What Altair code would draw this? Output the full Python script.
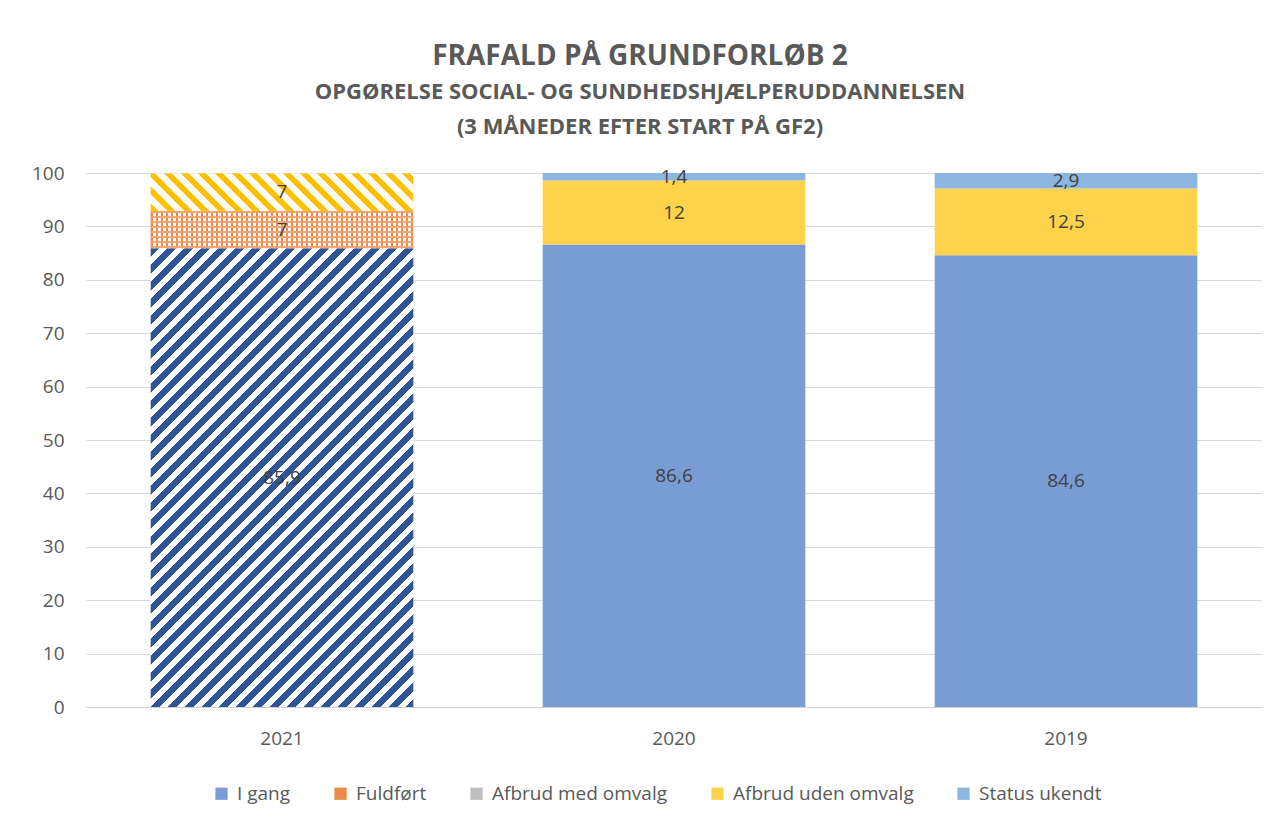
import math
import altair as alt
import pandas as pd

# ---- data ----
years = ["2021", "2020", "2019"]
categories = ["I gang", "Fuldført", "Afbrud med omvalg", "Afbrud uden omvalg", "Status ukendt"]
i_gang = [85.9, 86.6, 84.6]
fuldfoert = [7, 0, 0]
afbrud_med_omvalg = [0, 0, 0]
afbrud_uden_omvalg = [7, 12, 12.5]
status_ukendt = [0, 1.4, 2.9]
colors = ["#7A9CD5", "#EE8A45", "#BFBFBF", "#FFD24C", "#8CB7E1"]

title_line1 = "FRAFALD PÅ GRUNDFORLØB 2"
title_lines2 = ["OPGØRELSE SOCIAL- OG SUNDHEDSHJÆLPERUDDANNELSEN", "(3 MÅNEDER EFTER START PÅ GF2)"]

series = [i_gang, fuldfoert, afbrud_med_omvalg, afbrud_uden_omvalg, status_ukendt]
rows = []
for yi, yr in enumerate(years):
    base = 0.0
    for ci, cat in enumerate(categories):
        v = series[ci][yi]
        if v > 0:
            rows.append(dict(year=yr, cat=cat, value=v, y0=base, y1=base + v,
                             mid=base + v / 2, label=f"{v:g}".replace(".", ",")))
        base += v
df = pd.DataFrame(rows)

# ---- layout ----
W, H = 1176, 534
PI, PO = 0.33, 0.165
STEP = W / (len(years) - PI + 2 * PO)
BW = STEP * (1 - PI)
FONT = "Open Sans"
GREY = "#595959"


def diag_stripes(c1, c2, w, h, period, direction, frac=0.5):
    k = (w + h) / (w * w + h * h)
    if direction == "/":
        x1, y1, x2, y2 = 0, 0, k * w, k * h
    else:
        x1, y1, x2, y2 = 0, 1, k * w, 1 - k * h
    n = (w + h) / period
    stops = []
    i = 0
    while i / n < 1:
        a = i / n
        m = min((i + frac) / n, 1)
        b = min((i + 1) / n, 1)
        stops += [dict(offset=a, color=c1), dict(offset=m, color=c1),
                  dict(offset=m, color=c2), dict(offset=b, color=c2)]
        i += 1
    return dict(gradient="linear", x1=x1, y1=y1, x2=x2, y2=y2, stops=stops)


def axis_stripes(c1, c2, length, period, vertical, frac=0.6):
    n = length / period
    stops = []
    i = 0
    while i / n < 1:
        a = i / n
        m = min((i + frac) / n, 1)
        b = min((i + 1) / n, 1)
        stops += [dict(offset=a, color=c1), dict(offset=m, color=c1),
                  dict(offset=m, color=c2), dict(offset=b, color=c2)]
        i += 1
    if vertical:
        return dict(gradient="linear", x1=0, y1=0, x2=1, y2=0, stops=stops)
    return dict(gradient="linear", x1=0, y1=0, x2=0, y2=1, stops=stops)


def xenc():
    return alt.X("year:N", sort=years, title=None,
                 scale=alt.Scale(paddingInner=PI, paddingOuter=PO))


def yenc(field="y1"):
    return alt.Y(f"{field}:Q", title=None, scale=alt.Scale(domain=[0, 100], nice=False),
                 axis=alt.Axis(values=list(range(0, 101, 10))))


base = alt.Chart(df)

solid = base.transform_filter(alt.datum.year != "2021").mark_bar().encode(
    x=xenc(), y=yenc(), y2="y0:Q",
    color=alt.Color("cat:N", scale=alt.Scale(domain=categories, range=colors),
                    legend=alt.Legend(title=None, orient="none", direction="horizontal",
                                      legendX=126, legendY=611, symbolType="square",
                                      symbolSize=150, symbolStrokeWidth=0,
                                      labelFontSize=19, labelFont=FONT, labelColor=GREY,
                                      labelLimit=0, columnPadding=40, labelOffset=6)),
)

px = H / 100.0
h_igang = i_gang[0] * px
h_fuld = fuldfoert[0] * px
h_uden = afbrud_uden_omvalg[0] * px

def seg(cat, fill):
    return base.transform_filter((alt.datum.year == "2021") & (alt.datum.cat == cat)).mark_bar(
        fill=fill).encode(x=xenc(), y=yenc(), y2="y0:Q")

l_igang = seg("I gang", diag_stripes("#2F5597", "#FFFFFF", BW, h_igang, 17, "/", 0.5))
l_fuld_a = seg("Fuldført", axis_stripes("#EE8A45", "#FFFFFF", BW, 5, True, 0.5))
l_fuld_b = seg("Fuldført", axis_stripes("#F4A571", "rgba(255,255,255,0)", h_fuld, 5, False, 0.5))
l_uden = seg("Afbrud uden omvalg", diag_stripes("#FFC000", "#FFFFFF", BW, h_uden, 17, "\\", 0.45))

labels = base.mark_text(font=FONT, fontSize=19, color="#404040").encode(
    x=xenc(), y=yenc("mid"), text="label:N")

chart = alt.layer(solid, l_igang, l_fuld_a, l_fuld_b, l_uden, labels).properties(
    width=W, height=H,
    autosize=alt.AutoSizeParams(type="none"),
    padding={"left": 78, "top": 165, "right": 9, "bottom": 100},
    title=alt.TitleParams(
        text=title_line1, subtitle=title_lines2, font=FONT, fontSize=28, fontWeight="bold",
        color=GREY, subtitleFont=FONT, subtitleFontSize=22, subtitleFontWeight="bold",
        subtitleColor=GREY, subtitleLineHeight=35, subtitlePadding=11, offset=26,
        anchor="middle", dx=-34),
).configure_view(stroke=None).configure_axis(
    labelFont=FONT, labelFontSize=19, labelColor=GREY, ticks=False,
).configure_axisY(
    domain=False, gridColor="#D9D9D9", labelPadding=22,
).configure_axisX(
    grid=False, domainColor="#D0D0D0", labelAngle=0, labelPadding=22,
).properties(background="white")

chart.save("out.html", embed_options={"renderer": "svg", "actions": False})
